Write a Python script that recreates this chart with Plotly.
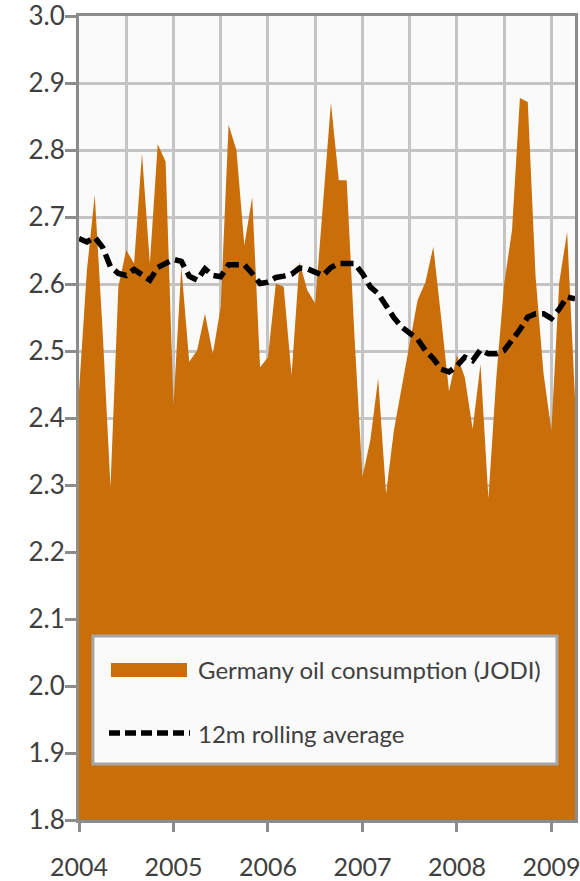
import plotly.graph_objects as go

# Monthly data, Jan 2004 .. Apr 2009 (million b/d)
start_year = 2004
consumption = [
    2.44, 2.62, 2.733, 2.53, 2.297, 2.596, 2.651, 2.631, 2.795, 2.631, 2.809, 2.783,   # 2004
    2.42, 2.626, 2.484, 2.501, 2.556, 2.496, 2.566, 2.838, 2.800, 2.658, 2.730, 2.476,  # 2005
    2.491, 2.601, 2.596, 2.464, 2.633, 2.591, 2.571, 2.717, 2.871, 2.755, 2.755, 2.52,  # 2006
    2.312, 2.367, 2.459, 2.287, 2.382, 2.447, 2.51, 2.576, 2.603, 2.656, 2.55, 2.44,    # 2007
    2.494, 2.461, 2.384, 2.481, 2.280, 2.46, 2.60, 2.681, 2.878, 2.872, 2.61, 2.467,    # 2008
    2.382, 2.603, 2.678, 2.43,                                                          # 2009
]
rolling_avg = [
    2.668, 2.663, 2.670, 2.655, 2.626, 2.616, 2.613, 2.622, 2.614, 2.606, 2.625, 2.631,
    2.637, 2.634, 2.612, 2.606, 2.623, 2.613, 2.611, 2.629, 2.629, 2.629, 2.616, 2.601,
    2.603, 2.610, 2.612, 2.615, 2.624, 2.623, 2.618, 2.613, 2.625, 2.631, 2.631, 2.631,
    2.616, 2.596, 2.586, 2.566, 2.550, 2.536, 2.528, 2.518, 2.501, 2.489, 2.473, 2.469,
    2.478, 2.491, 2.486, 2.502, 2.496, 2.496, 2.501, 2.516, 2.532, 2.551, 2.556, 2.556,
    2.549, 2.563, 2.581, 2.578,
]
year_ticks = [2004, 2005, 2006, 2007, 2008, 2009]
y_ticks = [1.8, 1.9, 2.0, 2.1, 2.2, 2.3, 2.4, 2.5, 2.6, 2.7, 2.8, 2.9, 3.0]
series_names = ["Germany oil consumption (JODI)", "12m rolling average"]

x = [start_year + i / 12 for i in range(len(consumption))]

ORANGE = "#CA6E0A"
FONT = "Lato"
TXT = "#404040"
AXIS = "#8c8c8c"
GRID = "#c4c4c4"

fig = go.Figure()
fig.add_trace(go.Scatter(
    x=x, y=consumption, mode="lines", fill="tozeroy",
    fillcolor=ORANGE, line=dict(width=0, color=ORANGE),
    name=series_names[0], showlegend=False,
))
fig.add_trace(go.Scatter(
    x=x, y=rolling_avg, mode="lines",
    line=dict(color="black", width=5.5, dash="13px,6px"),
    name=series_names[1], showlegend=False,
))

fig.update_layout(
    width=580, height=881,
    margin=dict(l=79, r=5, t=16, b=61, autoexpand=False),
    paper_bgcolor="white", plot_bgcolor="#fafafa",
    font=dict(family=FONT, color=TXT),
)
fig.update_xaxes(
    range=[x[0], x[-1]], tickvals=year_ticks, tickformat="d",
    tickfont=dict(size=25, family=FONT, color=TXT),
    ticks="outside", ticklen=9, tickwidth=3, tickcolor=AXIS,
    ticklabelstandoff=14, automargin=False, ticklabeloverflow="allow",
    showline=True, linecolor=AXIS, linewidth=3, mirror=True,
    showgrid=True, gridcolor=GRID, gridwidth=3,
    minor=dict(dtick=0.5, tick0=2004, showgrid=True, gridcolor=GRID, gridwidth=3, ticks=""),
    zeroline=False,
)
fig.update_yaxes(
    range=[1.8, 3.0004], tickvals=y_ticks, tickformat=".1f",
    tickfont=dict(size=26, family=FONT, color=TXT),
    ticks="outside", ticklen=11, tickwidth=3, tickcolor=AXIS,
    ticklabelstandoff=-5, automargin=False, ticklabeloverflow="allow",
    showline=True, linecolor=AXIS, linewidth=3, mirror=True,
    showgrid=True, gridcolor=GRID, gridwidth=3,
    zeroline=False,
)

# Legend drawn as a boxed key inside the plot area (paper coordinates)
shapes = [
    dict(type="rect", xref="paper", yref="paper", x0=0.0282, x1=0.9637, y0=0.0697, y1=0.2289,
         fillcolor="#fafafa", line=dict(color="#a6a6a6", width=3), layer="above"),
    dict(type="rect", xref="paper", yref="paper", x0=0.0645, x1=0.2177, y0=0.1779, y1=0.1953,
         fillcolor=ORANGE, line=dict(width=0), layer="above"),
    dict(type="line", xref="paper", yref="paper", x0=0.0605, x1=0.2238, y0=0.1082, y1=0.1082,
         line=dict(color="black", width=5.5, dash="11px,5px"), layer="above"),
]
annotations = [
    dict(xref="paper", yref="paper", x=0.2359, y=0.1866, xanchor="left", yanchor="middle",
         text=series_names[0], showarrow=False, font=dict(size=24, family=FONT, color=TXT)),
    dict(xref="paper", yref="paper", x=0.2359, y=0.1082, xanchor="left", yanchor="middle",
         text=series_names[1], showarrow=False, font=dict(size=24, family=FONT, color=TXT)),
]
fig.update_layout(shapes=shapes, annotations=annotations)

# remove the default page margin so the 580x881 figure fills the window exactly
fig.write_html(
    "out.html",
    config={"displayModeBar": False},
    post_script="document.body.style.margin='0';document.body.style.overflow='hidden';",
)
